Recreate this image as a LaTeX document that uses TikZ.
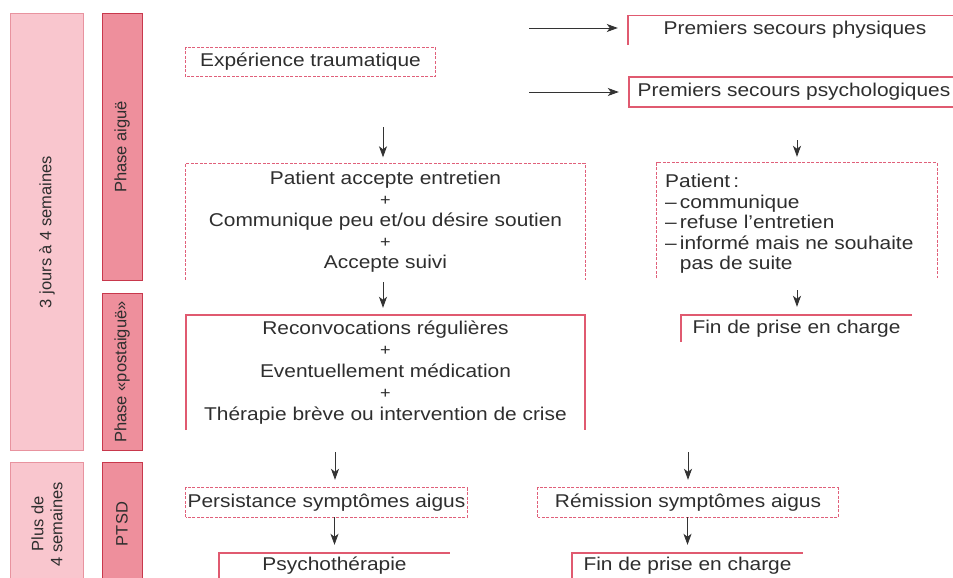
\documentclass[tikz,border=0pt]{standalone}
\usepackage{fontspec}
\setmainfont{Liberation Sans}[FakeStretch=1.13]
\newfontfamily\barfont{Liberation Sans}
\usetikzlibrary{arrows.meta}
\definecolor{textgray}{HTML}{2E2E2E}
\definecolor{barlight}{HTML}{F9C6CE}
\definecolor{barlightedge}{HTML}{E8939F}
\definecolor{bardark}{HTML}{EE8F9C}
\definecolor{bardarkedge}{HTML}{C8384C}
\definecolor{boxpink}{HTML}{E05A70}
\definecolor{dashpink}{HTML}{E0607A}
\newcommand{\plus}{{\fontsize{16}{21}\selectfont +}}

\begin{document}
\begin{tikzpicture}[
    x=1pt, y=-1pt,
    >={Stealth[length=11pt,width=8pt,inset=3pt]},
    font=\fontsize{18.5}{21}\selectfont,
    text=textgray,
    box/.style={inner sep=0pt, align=center},
    pinkline/.style={draw=boxpink, line width=1.5pt},
    dashline/.style={draw=dashpink, line width=1.1pt, dash pattern=on 3pt off 1.5pt},
    flow/.style={->, black!80, line width=0.8pt},
    barA/.style={rotate=90, fill=barlight, draw=barlightedge, line width=1pt,
      inner sep=0pt, align=center, font=\barfont\fontsize{16.5}{19}\selectfont},
    barB/.style={rotate=90, fill=bardark, draw=bardarkedge, line width=1pt,
      inner sep=0pt, align=center, font=\barfont\fontsize{16.5}{19}\selectfont}
  ]
  \useasboundingbox (0,0) rectangle (953,578);

  % --- BANDES DE GAUCHE ---
  \node[barA, minimum width=436pt, minimum height=73pt] (jours) at (47,232) {3 jours à 4 semaines};
  \node[barB, minimum width=266pt, minimum height=40pt] (aigue) at (122,147) {Phase aiguë};
  \node[barB, minimum width=157pt, minimum height=40pt] (post) at (122,372) {Phase «postaiguë»};
  \node[barA, minimum width=124pt, minimum height=73pt] (plus) at (47,524) {Plus de\\4 semaines};
  \node[barB, minimum width=124pt, minimum height=40pt] (ptsd) at (122,524) {PTSD};

  % --- BOITES ---
  \node[box, minimum width=249pt, minimum height=29pt] (exp) at (310.5,62) {Expérience traumatique};
  \node[box, minimum width=334pt, minimum height=29pt] (psph) at (795,30) {Premiers secours physiques};
  \node[box, minimum width=330pt, minimum height=30pt] (psps) at (794,92) {Premiers secours psychologiques};
  \node[box, minimum width=399pt, minimum height=116pt] (acc) at (385.5,221.5)
    {Patient accepte entretien\\ \plus\\ Communique peu et/ou désire soutien\\ \plus\\ Accepte suivi};
  \node[box, minimum width=280pt, minimum height=115pt] (pat) at (797,220.5) {};
  \node[anchor=north west, inner sep=0pt, align=left, font=\fontsize{18.5}{20.5}\selectfont] (pattxt) at (665,174)
    {Patient\,:\\
     --\,communique\\
     --\,refuse l’entretien\\
     --\,informé mais ne souhaite\\
     \phantom{--\,}pas de suite};
  \node[box, minimum width=399pt, minimum height=115pt, font=\fontsize{18.5}{21.5}\selectfont] (rec) at (385.5,372.5)
    {Reconvocations régulières\\ \plus\\ Eventuellement médication\\ \plus\\ Thérapie brève ou intervention de crise};
  \node[box, minimum width=231pt, minimum height=27pt] (fina) at (796.5,328.5) {Fin de prise en charge};
  \node[box, minimum width=281pt, minimum height=29pt] (pers) at (326.5,502.5) {Persistance symptômes aigus};
  \node[box, minimum width=300pt, minimum height=29pt] (rem) at (688,502.5) {Rémission symptômes aigus};
  \node[box, minimum width=231pt, minimum height=26pt] (psy) at (334.5,566) {Psychothérapie};
  \node[box, minimum width=231pt, minimum height=26pt] (finb) at (687.5,566) {Fin de prise en charge};

  % --- BORDS ---
  \draw[dashline] (exp.south west) rectangle (exp.north east);
  \draw[pinkline] (psph.south west) |- (psph.north east);
  \draw[pinkline] (psps.north east) -| (psps.south west) -- (psps.south east);
  \draw[dashline] (acc.south west) |- (acc.north east) -- (acc.south east);
  \draw[dashline] (pat.south west) |- (pat.north east) -- (pat.south east);
  \draw[pinkline] (rec.south west) |- (rec.north east) -- (rec.south east);
  \draw[pinkline] (fina.south west) |- (fina.north east);
  \draw[dashline] (pers.south west) rectangle (pers.north east);
  \draw[dashline] (rem.south west) rectangle (rem.north east);
  \draw[pinkline] (psy.south west) |- (psy.north east);
  \draw[pinkline] (finb.south west) |- (finb.north east);

  % --- FLECHES ---
  \coordinate (ta) at (529,28);
  \coordinate (tb) at (529,92);
  \coordinate (tc) at (383,127);
  \coordinate (td) at (797,140);
  \coordinate (te) at (383,282);
  \coordinate (tf) at (797,290);
  \coordinate (tg) at (335,452);
  \coordinate (th) at (688,452);

  \draw[flow, shorten >=10pt] (ta) -- (ta -| psph.west);
  \draw[flow, shorten >=10pt] (tb) -- (tb -| psps.west);
  \draw[flow, shorten >=6pt] (tc) -- (tc |- acc.north);
  \draw[flow, shorten >=6pt] (td) -- (td |- pat.north);
  \draw[flow, shorten >=7pt] (te) -- (te |- rec.north);
  \draw[flow, shorten >=8pt] (tf) -- (tf |- fina.north);
  \draw[flow, shorten >=8pt] (tg) -- (tg |- pers.north);
  \draw[flow, shorten >=8pt] (th) -- (th |- rem.north);
  \draw[flow, shorten >=8pt] (psy.north |- pers.south) -- (psy.north);
  \draw[flow, shorten >=8pt] (finb.north |- rem.south) -- (finb.north);

\end{tikzpicture}
\end{document}
